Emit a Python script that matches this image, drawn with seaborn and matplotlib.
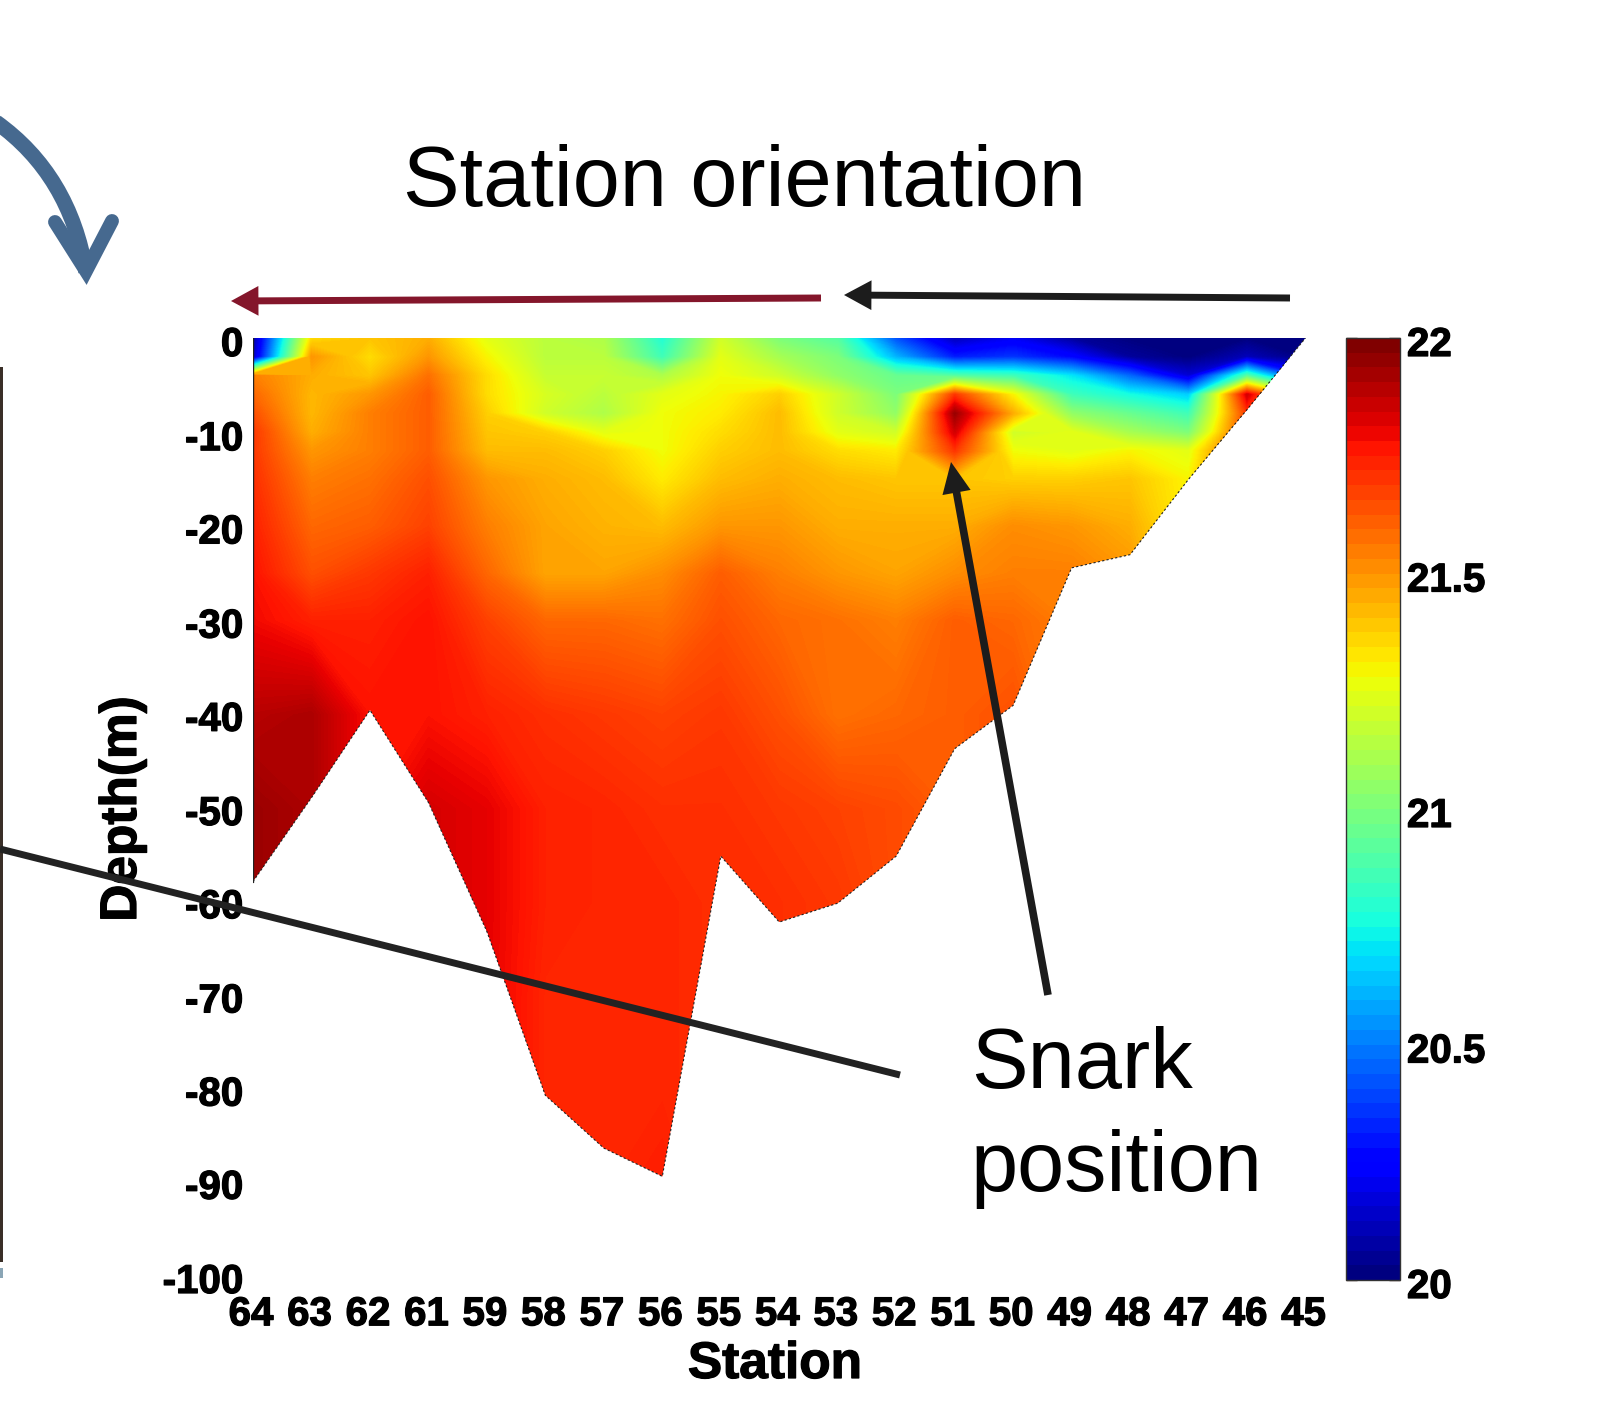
import matplotlib
matplotlib.use("Agg")
import matplotlib.patheffects as pe
import matplotlib.pyplot as plt
from matplotlib.cm import ScalarMappable
from matplotlib.colors import Normalize
from matplotlib.patches import FancyArrowPatch, PathPatch, Polygon, Rectangle
from matplotlib.path import Path
from matplotlib.transforms import ScaledTranslation
import numpy as np
import pandas as pd
import seaborn as sns

W, H = 1612, 1411
nan = np.nan

# Station order along the section (60 was not sampled)
stations = [64, 63, 62, 61, 59, 58, 57, 56, 55, 54, 53, 52, 51, 50, 49, 48, 47, 46, 45]
# Seabed depth under each station (m)
bottom = [-57.7, -48.8, -39.5, -49.3, -63, -80.4, -86, -89, -55, -62, -60, -55, -43.6, -39, -24.4, -23, -15, -7.6, 0]

depths = [0, -2, -4, -6, -8, -10, -12, -15, -20, -25, -30, -40, -50, -60, -70, -80, -90]

# Temperature, one list per depth, stations left to right
t_000 = [20.05, 21.35, 21.40, 21.45, 21.25, 21.15, 21.12, 20.78, 21.20, 21.00, 20.90, 20.40, 20.10, 20.20, 20.05, 20.00, 20.00, 20.00, 20.00]
t_002 = [20.10, 21.50, 21.35, 21.50, 21.30, 21.15, 21.15, 20.85, 21.25, 21.10, 21.00, 20.60, 20.30, 20.35, 20.25, 20.05, 20.00, 20.10, 20.00]
t_004 = [21.55, 21.45, 21.40, 21.58, 21.35, 21.18, 21.18, 21.12, 21.28, 21.20, 21.05, 20.95, 20.90, 20.85, 20.70, 20.45, 20.15, 20.90, 20.30]
t_006 = [21.60, 21.43, 21.50, 21.62, 21.35, 21.22, 21.15, 21.25, 21.30, 21.38, 21.20, 21.00, 21.70, 21.30, 20.85, 20.75, 20.65, 21.85, 21.20]
t_008 = [21.65, 21.43, 21.55, 21.62, 21.38, 21.20, 21.12, 21.28, 21.32, 21.42, 21.20, 21.05, 21.95, 21.45, 21.05, 20.95, 20.85, 21.70, 21.10]
t_010 = [21.70, 21.45, 21.55, 21.62, 21.40, 21.38, 21.25, 21.28, 21.35, 21.42, 21.25, 21.20, 21.85, 21.20, 21.25, 21.10, 21.00, nan, nan]
t_012 = [21.70, 21.50, 21.55, 21.62, 21.42, 21.42, 21.38, 21.28, 21.38, 21.42, 21.35, 21.32, 21.70, 21.28, 21.25, 21.30, 21.25, nan, nan]
t_015 = [21.72, 21.55, 21.58, 21.65, 21.50, 21.45, 21.42, 21.32, 21.42, 21.45, 21.42, 21.40, 21.40, 21.38, 21.38, 21.40, 21.30, nan, nan]
t_020 = [21.75, 21.60, 21.62, 21.68, 21.55, 21.47, 21.44, 21.42, 21.50, 21.50, 21.45, 21.45, 21.45, 21.52, 21.50, 21.45, nan, nan, nan]
t_025 = [21.78, 21.65, 21.70, 21.75, 21.60, 21.47, 21.47, 21.52, 21.62, 21.55, 21.50, 21.47, 21.52, 21.55, 21.55, 21.50, nan, nan, nan]
t_030 = [21.80, 21.75, 21.75, 21.78, 21.68, 21.60, 21.60, 21.58, 21.65, 21.60, 21.58, 21.55, 21.62, 21.60, nan, nan, nan, nan, nan]
t_040 = [21.90, 21.92, 21.78, 21.78, 21.75, 21.72, 21.70, 21.68, 21.70, 21.65, 21.58, 21.60, 21.62, 21.65, nan, nan, nan, nan, nan]
t_050 = [21.95, 21.92, nan, 21.85, 21.82, 21.75, 21.74, 21.72, 21.72, 21.70, 21.68, 21.66, nan, nan, nan, nan, nan, nan, nan]
t_060 = [21.95, nan, nan, nan, 21.82, 21.75, 21.74, 21.74, nan, 21.72, 21.70, nan, nan, nan, nan, nan, nan, nan, nan]
t_070 = [nan, nan, nan, nan, nan, 21.74, 21.74, 21.74, nan, nan, nan, nan, nan, nan, nan, nan, nan, nan, nan]
t_080 = [nan, nan, nan, nan, nan, 21.74, 21.74, 21.74, nan, nan, nan, nan, nan, nan, nan, nan, nan, nan, nan]
t_090 = [nan, nan, nan, nan, nan, nan, nan, 21.76, nan, nan, nan, nan, nan, nan, nan, nan, nan, nan, nan]

rows = [t_000, t_002, t_004, t_006, t_008, t_010, t_012, t_015, t_020, t_025, t_030, t_040, t_050, t_060, t_070, t_080, t_090]
temp = pd.DataFrame(rows, index=depths, columns=stations)
# Below the seabed the field is clipped away, only needs to be filled
temp = temp.ffill(axis=0)

depth_ticks = [0, -10, -20, -30, -40, -50, -60, -70, -80, -90, -100]
cbar_ticks = [20, 20.5, 21, 21.5, 22]

sns.set_theme(style="white")
plt.rcParams["font.family"] = ["Liberation Sans", "DejaVu Sans"]

def px_axes(fig, x0, y0, x1, y1, **kw):
    return fig.add_axes([x0 / W, 1 - y1 / H, (x1 - x0) / W, (y1 - y0) / H], **kw)

fig = plt.figure(figsize=(W / 100, H / 100), dpi=100, facecolor="white")
ax = px_axes(fig, 253, 338, 1305.5, 1280)
cax = px_axes(fig, 1346, 338, 1400, 1280)

pos = np.arange(len(stations))
levels = np.linspace(20, 22, 257)
field = ax.contourf(pos, depths, temp.values, levels=levels, cmap="jet", antialiased=False)

outline = list(zip(pos, bottom)) + [(pos[-1], 0), (pos[0], 0)]
clip = Polygon(outline, closed=True, transform=ax.transData, facecolor="none", edgecolor="none")
ax.add_patch(clip)
field.set_clip_path(clip)

edge = pd.DataFrame({"pos": pos, "bottom": bottom})
sns.lineplot(data=edge, x="pos", y="bottom", ax=ax, color="#222222", lw=0.8, linestyle=(0, (2, 2)), legend=False)
ax.plot([pos[0], pos[0]], [0, bottom[0]], color="#222222", lw=1.0)

# Heavier look of the original bold labels
heavy = [pe.withStroke(linewidth=0.9, foreground="black")]

ax.set_xlim(pos[0], pos[-1])
ax.set_ylim(-100, 0)
for s in ax.spines.values():
    s.set_visible(False)
ax.set_xticks(pos)
ax.set_xticklabels(stations, fontsize=29, fontweight="bold", color="black")
ax.set_yticks(depth_ticks)
ax.set_yticklabels(depth_ticks, fontsize=29, fontweight="bold", color="black")
ax.tick_params(axis="x", length=0, pad=11)
ax.tick_params(axis="y", length=0, pad=7)
xshift = ScaledTranslation(-2 / 100, 0, fig.dpi_scale_trans)
for lab in ax.get_xticklabels():
    lab.set_transform(lab.get_transform() + xshift)
    lab.set_path_effects(heavy)
# The depth labels sit a little tighter than the axis scale in the original
for lab, dy in zip(ax.get_yticklabels(), [3, 3, 2, 2, 1, 1, 0, 0, -1, -2, -2]):
    lab.set_transform(lab.get_transform() + ScaledTranslation(0, -dy / 100, fig.dpi_scale_trans))
    lab.set_path_effects(heavy)

cb = fig.colorbar(ScalarMappable(Normalize(20, 22), plt.get_cmap("jet", 64)), cax=cax)
cb.set_ticks(cbar_ticks)
cb.set_ticklabels(["20", "20.5", "21", "21.5", "22"], fontsize=29, fontweight="bold", color="black")
cax.tick_params(axis="y", which="both", direction="in", left=True, right=True, length=8, width=1, color="#3a1a10", pad=5)
cb.outline.set_edgecolor("#333333")
cb.outline.set_linewidth(1.0)
cshift = ScaledTranslation(0, -3 / 100, fig.dpi_scale_trans)
for lab in cax.get_yticklabels():
    lab.set_transform(lab.get_transform() + cshift)
    lab.set_path_effects(heavy)

# Overlay in picture pixels for the slide annotations
over = px_axes(fig, 0, 0, W, H, zorder=10)
over.set_xlim(0, W)
over.set_ylim(H, 0)
over.axis("off")
over.patch.set_alpha(0)

ax.set_xlabel("Station", fontsize=37, fontweight="bold", color="black", path_effects=heavy)
ax.xaxis.set_label_coords(775, 1340, transform=over.transData)
ax.set_ylabel("Depth(m)", fontsize=37, fontweight="bold", color="black", path_effects=heavy)
ax.yaxis.set_label_coords(147, 809, transform=over.transData)

over.text(403, 206, "Station orientation", fontsize=61, color="black", ha="left", va="baseline")
over.text(971, 1088, "Snark", fontsize=61, color="black", ha="left", va="baseline")
over.text(971, 1191, "position", fontsize=61, color="black", ha="left", va="baseline")

def arrow(a, b, color, lw, hl, hw):
    over.add_patch(FancyArrowPatch(a, b, arrowstyle=f"-|>,head_length={hl},head_width={hw}", mutation_scale=1,
                                   shrinkA=0, shrinkB=0, color=color, lw=lw, joinstyle="miter", capstyle="butt"))

arrow((1048, 995), (951, 462), "#1c1c1c", 5.5, 13, 6)
arrow((821, 298), (231, 301), "#84162b", 5, 12, 6.5)
arrow((1290, 298), (844, 295), "#1c1c1c", 5, 12, 6.5)

over.plot([0, 900], [849, 1075], color="#222222", lw=5, solid_capstyle="butt")

# Curved arrow from the neighbouring panel
blue = "#46698f"
curve = Path([(-4, 122), (70, 175), (86, 272)], [Path.MOVETO, Path.CURVE3, Path.CURVE3])
over.add_patch(PathPatch(curve, fill=False, edgecolor=blue, lw=11, capstyle="butt"))
over.plot([55, 86, 112], [222, 271, 221], color=blue, lw=10, solid_capstyle="round", solid_joinstyle="miter")

# Edge of the neighbouring panel
over.add_patch(Rectangle((0, 367), 3, 895, facecolor="#3a2f28", edgecolor="none"))
over.add_patch(Rectangle((0, 1268), 3, 10, facecolor="#8aa5b5", edgecolor="none"))

fig.savefig("out.png", dpi=100, facecolor="white")
